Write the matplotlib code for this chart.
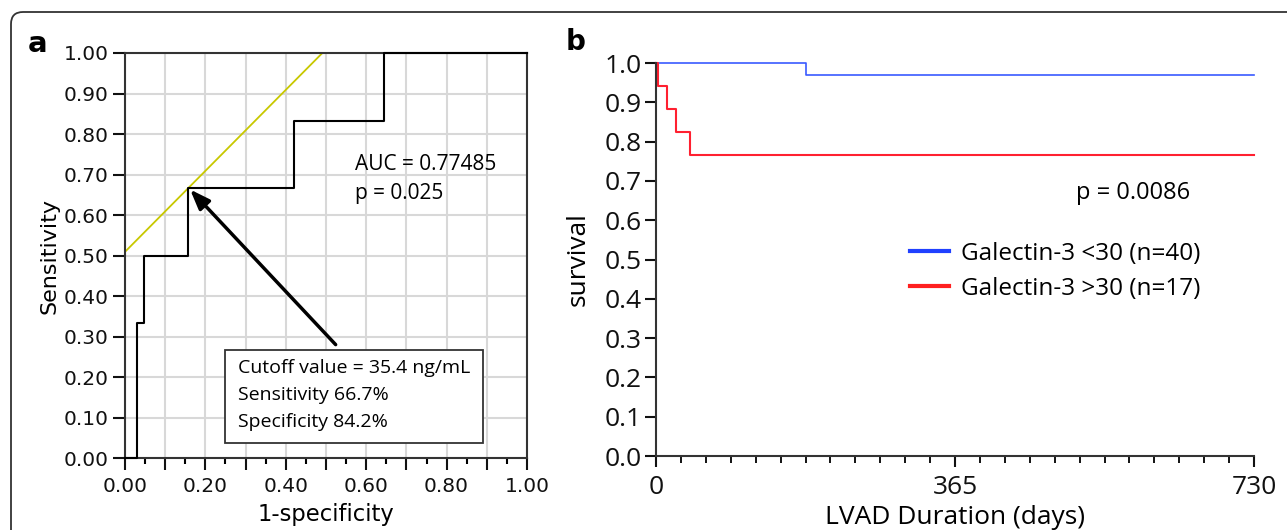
import matplotlib.pyplot as plt
from matplotlib.patches import FancyBboxPatch, Rectangle
from matplotlib.transforms import IdentityTransform
from matplotlib.lines import Line2D
import numpy as np

plt.rcParams['font.family'] = ['Open Sans', 'DejaVu Sans']

# panel a: ROC curve
roc_fpr = [0.0, 0.03, 0.03, 0.048, 0.048, 0.158, 0.158, 0.421, 0.421, 0.645, 0.645, 1.0]
roc_tpr = [0.0, 0.0, 0.333, 0.333, 0.5, 0.5, 0.667, 0.667, 0.833, 0.833, 1.0, 1.0]
cut_x, cut_y = 0.158, 0.667
auc_lines = ["AUC = 0.77485", "p = 0.025"]
box_lines = ["Cutoff value = 35.4 ng/mL", "Sensitivity 66.7%", "Specificity 84.2%"]

# panel b: Kaplan-Meier
low_t = [0, 183, 730]
low_s = [1.0, 0.969, 0.969]
high_t = [0, 3, 14, 24, 41, 730]
high_s = [1.0, 0.941, 0.882, 0.824, 0.765, 0.765]
low_label = "Galectin-3 <30 (n=40)"
high_label = "Galectin-3 >30 (n=17)"
p_text = "p = 0.0086"

fig = plt.figure(figsize=(12.87, 5.30), dpi=100)

# rounded outer frame
frame = FancyBboxPatch((11, -20), 1300, 530 - 12 + 20, boxstyle="round,pad=0,rounding_size=12",
                       transform=IdentityTransform(), fill=False, edgecolor='#333333', linewidth=1.3)
fig.patches.append(frame)

# ---------------- a
ax = fig.add_axes([0.0971, 0.1358, 0.3124, 0.7642])
ax.set_xlim(0, 1)
ax.set_ylim(0, 1)
ticks = np.arange(0, 1.01, 0.1)
ax.set_xticks(ticks)
ax.set_xticklabels([("%.2f" % v) if i % 2 == 0 else "" for i, v in enumerate(ticks)],
                   family='DejaVu Sans')
ax.set_xticks(np.arange(0.05, 1.0, 0.1), minor=True)
ax.set_yticks(ticks)
ax.set_yticklabels(["%.2f" % v for v in ticks], family='DejaVu Sans')
ax.tick_params(which='major', length=8.5, width=1.5, labelsize=14.5, colors='#111111', pad=3)
ax.tick_params(axis='x', which='major', pad=5)
ax.tick_params(which='minor', length=4, width=1.5)
ax.grid(True, color='#d8d8d8', linewidth=1.5)
ax.set_axisbelow(True)
for s in ax.spines.values():
    s.set_linewidth(1.5)
    s.set_color('#333333')

ax.plot(roc_fpr, roc_tpr, color='black', linewidth=1.5, clip_on=False, zorder=3)
xl = np.array([0, 1])
ax.plot(xl, cut_y - cut_x + xl, color='#c8c800', linewidth=1.3, zorder=2)
ax.annotate("", xy=(cut_x + 0.004, cut_y - 0.004), xytext=(0.524, 0.28),
            arrowprops=dict(arrowstyle='-|>,head_length=1.2,head_width=0.45', color='black', lw=2.5,
                            shrinkA=0, shrinkB=0), zorder=4)
ax.text(0.571, 0.725, auc_lines[0], fontsize=15, va='center', ha='left')
ax.text(0.571, 0.652, auc_lines[1], fontsize=15, va='center', ha='left')
ax.add_patch(Rectangle((0.249, 0.037), 0.642, 0.23, facecolor='white', edgecolor='#333333',
                       linewidth=1.3, zorder=5))
for i, line in enumerate(box_lines):
    ax.text(0.28, 0.222 - i * 0.0665, line, fontsize=14, va='center', ha='left', zorder=6)
ax.set_ylabel("Sensitivity", fontsize=16, labelpad=3, family='DejaVu Sans')
ax.set_xlabel("1-specificity", fontsize=16.3, labelpad=5, family='DejaVu Sans')
fig.text(38 / 1287, 1 - 44 / 530, "a", fontsize=21, fontweight='bold', family='DejaVu Sans',
         va='center', ha='center')

# ---------------- b
bx = fig.add_axes([0.5097, 0.1396, 0.4647, 0.7415])
bx.step(low_t, low_s, where='post', color='#3a5aff', linewidth=1.2, clip_on=False)
bx.step(high_t, high_s, where='post', color='#ff2030', linewidth=1.5, clip_on=False)
bx.set_xlim(0, 730)
bx.set_ylim(0, 1.0)
bx.set_xticks([0, 365, 730])
bx.set_xticks(np.arange(0, 730, 365 / 12), minor=True)
bx.set_yticks(ticks)
bx.set_yticklabels(["%.1f" % v for v in ticks])
bx.tick_params(which='major', length=8, width=1.5, labelsize=19, colors='#111111', pad=2)
bx.tick_params(axis='x', which='major', pad=6)
bx.tick_params(which='minor', length=5, width=1.3)
bx.spines['top'].set_visible(False)
bx.spines['right'].set_visible(False)
for s in ['left', 'bottom']:
    bx.spines[s].set_linewidth(1.5)
    bx.spines[s].set_color('#333333')
bx.text(0.893, 0.668, p_text, transform=bx.transAxes, fontsize=17, ha='right', va='center')
handles = [Line2D([], [], color='#2040ff', linewidth=3), Line2D([], [], color='#ff2020', linewidth=3)]
bx.legend(handles, [low_label, high_label], loc='center left', bbox_to_anchor=(0.425, 0.47),
          frameon=False, fontsize=17.5, handlelength=1.6, handletextpad=0.5, labelspacing=0.45,
          borderpad=0, borderaxespad=0)
bx.set_ylabel("survival", fontsize=19, labelpad=10)
bx.set_xlabel("LVAD Duration (days)", fontsize=19, labelpad=3)
fig.text(576 / 1287, 1 - 42 / 530, "b", fontsize=20, fontweight='bold', family='DejaVu Sans',
         va='center', ha='center')

fig.savefig("out.png", dpi=100)
